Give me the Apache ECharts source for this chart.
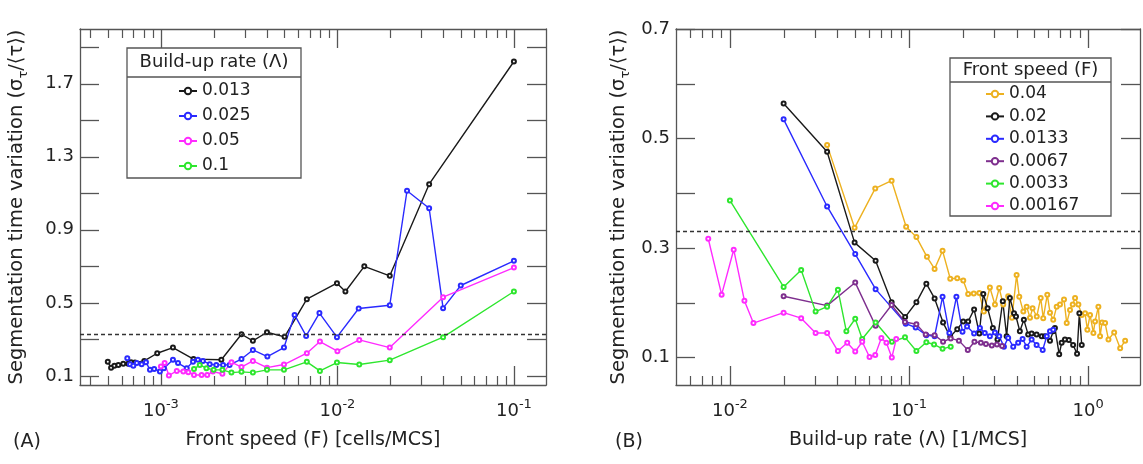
<!DOCTYPE html>
<html>
<head>
<meta charset="utf-8">
<script src="https://cdn.jsdelivr.net/npm/echarts@6/dist/echarts.min.js"></script>
<style>
    html, body {margin: 0; background: #fff;}
    #chart {width: 1143px; height: 464px;}
</style>
</head>
<body>
<div id="chart"></div>
<script>
// (A) 前沿速度 F 与时间变异系数，按 build-up rate 分线
const rateNames = ['0.013', '0.025', '0.05', '0.1'];
const speed013 = [5.0e-4, 5.22e-4, 5.45e-4, 5.74e-4, 6.12e-4, 6.53e-4, 6.77e-4, 7.13e-4, 8.05e-4, 9.53e-4, 1.17e-3, 1.53e-3, 2.2e-3, 2.86e-3, 3.32e-3, 3.99e-3, 5.02e-3, 6.71e-3, 9.94e-3, 1.11e-2, 1.42e-2, 1.98e-2, 3.31e-2, 0.1];
const cv013 = [0.178, 0.144, 0.156, 0.160, 0.166, 0.166, 0.175, 0.173, 0.182, 0.224, 0.255, 0.192, 0.188, 0.328, 0.292, 0.339, 0.314, 0.520, 0.608, 0.562, 0.700, 0.648, 1.150, 1.822];
const speed025 = [6.45e-4, 6.68e-4, 6.98e-4, 7.3e-4, 7.78e-4, 8.23e-4, 8.67e-4, 9.16e-4, 9.87e-4, 1.04e-3, 1.17e-3, 1.25e-3, 1.40e-3, 1.52e-3, 1.62e-3, 1.73e-3, 1.89e-3, 2.06e-3, 2.25e-3, 2.45e-3, 2.86e-3, 3.32e-3, 4.01e-3, 4.98e-3, 5.72e-3, 6.65e-3, 7.91e-3, 9.94e-3, 1.32e-2, 1.98e-2, 2.48e-2, 3.31e-2, 3.97e-2, 5.0e-2, 0.1];
const cv025 = [0.197, 0.164, 0.156, 0.170, 0.164, 0.175, 0.133, 0.138, 0.124, 0.142, 0.188, 0.170, 0.142, 0.178, 0.188, 0.182, 0.164, 0.160, 0.160, 0.160, 0.192, 0.242, 0.206, 0.255, 0.434, 0.319, 0.444, 0.312, 0.469, 0.487, 1.114, 1.018, 0.471, 0.595, 0.730];
const speed05 = [1e-3, 1.05e-3, 1.11e-3, 1.23e-3, 1.34e-3, 1.43e-3, 1.54e-3, 1.70e-3, 1.83e-3, 1.97e-3, 2.23e-3, 2.51e-3, 2.86e-3, 3.32e-3, 3.99e-3, 4.98e-3, 6.71e-3, 7.96e-3, 1.0e-2, 1.33e-2, 1.98e-2, 3.97e-2, 0.1];
const cv05 = [0.151, 0.170, 0.102, 0.127, 0.124, 0.120, 0.105, 0.105, 0.105, 0.124, 0.111, 0.175, 0.148, 0.182, 0.145, 0.162, 0.224, 0.288, 0.235, 0.297, 0.255, 0.531, 0.693];
const speed1 = [1.54e-3, 1.66e-3, 1.81e-3, 1.99e-3, 2.23e-3, 2.51e-3, 2.86e-3, 3.32e-3, 3.99e-3, 4.98e-3, 6.71e-3, 7.96e-3, 9.94e-3, 1.33e-2, 1.98e-2, 3.97e-2, 0.1];
const cv1 = [0.137, 0.160, 0.142, 0.133, 0.133, 0.118, 0.122, 0.118, 0.133, 0.133, 0.177, 0.127, 0.173, 0.162, 0.186, 0.312, 0.562];

// (B) build-up rate 与变异系数，按前沿速度分线
const speedNames = ['0.04', '0.02', '0.0133', '0.0067', '0.0033', '0.00167'];
const rate04 = [0.0349, 0.0497, 0.0648, 0.080, 0.0964, 0.110, 0.126, 0.139, 0.154, 0.170, 0.186, 0.201, 0.214, 0.230, 0.247, 0.262, 0.283, 0.302, 0.319, 0.336, 0.358, 0.376, 0.399, 0.413, 0.435, 0.454, 0.474, 0.490, 0.517, 0.544, 0.562, 0.592, 0.613, 0.639, 0.668, 0.697, 0.734, 0.760, 0.793, 0.821, 0.846, 0.883, 0.923, 0.962, 0.991, 1.026, 1.071, 1.094, 1.142, 1.167, 1.197, 1.245, 1.300, 1.399, 1.511, 1.611];
const cvB04 = [0.488, 0.337, 0.409, 0.423, 0.339, 0.320, 0.284, 0.262, 0.295, 0.244, 0.245, 0.241, 0.216, 0.217, 0.218, 0.184, 0.228, 0.197, 0.227, 0.197, 0.212, 0.173, 0.251, 0.211, 0.184, 0.193, 0.173, 0.190, 0.175, 0.209, 0.172, 0.215, 0.182, 0.169, 0.193, 0.197, 0.206, 0.163, 0.187, 0.197, 0.209, 0.197, 0.178, 0.181, 0.151, 0.178, 0.145, 0.166, 0.193, 0.139, 0.164, 0.163, 0.133, 0.146, 0.117, 0.131];
const rate02 = [0.01995, 0.0349, 0.0497, 0.0651, 0.080, 0.0952, 0.110, 0.125, 0.139, 0.155, 0.170, 0.186, 0.201, 0.214, 0.231, 0.247, 0.260, 0.275, 0.294, 0.312, 0.334, 0.351, 0.366, 0.386, 0.396, 0.416, 0.438, 0.463, 0.484, 0.516, 0.551, 0.574, 0.613, 0.639, 0.653, 0.690, 0.712, 0.743, 0.781, 0.825, 0.868, 0.894, 0.922];
const cvB02 = [0.564, 0.476, 0.310, 0.277, 0.201, 0.174, 0.201, 0.235, 0.208, 0.164, 0.138, 0.152, 0.166, 0.166, 0.188, 0.144, 0.216, 0.190, 0.154, 0.133, 0.203, 0.139, 0.209, 0.181, 0.175, 0.148, 0.169, 0.142, 0.144, 0.142, 0.139, 0.139, 0.131, 0.148, 0.154, 0.106, 0.127, 0.133, 0.132, 0.123, 0.107, 0.181, 0.123];
const rate0133 = [0.01995, 0.0349, 0.0501, 0.0651, 0.0959, 0.109, 0.125, 0.139, 0.154, 0.168, 0.184, 0.199, 0.211, 0.231, 0.249, 0.265, 0.283, 0.302, 0.319, 0.339, 0.358, 0.382, 0.407, 0.431, 0.454, 0.484, 0.516, 0.558, 0.588, 0.613, 0.639];
const cvB0133 = [0.535, 0.376, 0.289, 0.225, 0.162, 0.155, 0.141, 0.139, 0.211, 0.145, 0.211, 0.147, 0.157, 0.144, 0.154, 0.145, 0.139, 0.146, 0.139, 0.120, 0.136, 0.120, 0.127, 0.134, 0.120, 0.133, 0.123, 0.114, 0.139, 0.148, 0.151];
const rate0067 = [0.01995, 0.0349, 0.0501, 0.0651, 0.080, 0.0950, 0.110, 0.124, 0.139, 0.155, 0.171, 0.190, 0.213, 0.232, 0.252, 0.269, 0.290, 0.310, 0.331];
const cvB0067 = [0.212, 0.195, 0.237, 0.158, 0.196, 0.165, 0.161, 0.142, 0.141, 0.129, 0.135, 0.131, 0.114, 0.129, 0.127, 0.125, 0.122, 0.124, 0.121];
const rate0033 = [0.01, 0.01995, 0.0250, 0.0301, 0.0349, 0.0401, 0.0447, 0.0501, 0.0548, 0.0651, 0.0803, 0.0950, 0.110, 0.125, 0.138, 0.154, 0.171];
const cvB0033 = [0.387, 0.229, 0.260, 0.184, 0.193, 0.224, 0.148, 0.171, 0.134, 0.164, 0.129, 0.137, 0.112, 0.128, 0.124, 0.116, 0.120];
const rate00167 = [0.00757, 0.00899, 0.0105, 0.01205, 0.01353, 0.01995, 0.0250, 0.0301, 0.0349, 0.0401, 0.0452, 0.0501, 0.0548, 0.0602, 0.0648, 0.0701, 0.0748, 0.0802, 0.0849];
const cvB00167 = [0.317, 0.215, 0.297, 0.204, 0.163, 0.182, 0.172, 0.145, 0.145, 0.112, 0.127, 0.111, 0.129, 0.101, 0.105, 0.136, 0.127, 0.100, 0.134];

// 虚线阈值
const thresholdCV = 0.33;

// 刻度
const ticksYA = [0.1, 0.3, 0.5, 0.7, 0.9, 1.1, 1.3, 1.5, 1.7, 1.9];
const labelsYA = [0.1, 0.5, 0.9, 1.3, 1.7];
const ticksYB = [0.1, 0.2, 0.3, 0.4, 0.5, 0.6, 0.7];
const labelsYB = [0.1, 0.3, 0.5, 0.7];
const decadesA = [1e-4, 1e-3, 1e-2, 1e-1];
const decadesB = [1e-3, 1e-2, 1e-1, 1];
const majorsA = [1e-3, 1e-2, 1e-1];
const majorsB = [1e-2, 1e-1, 1];

const FONT = 'DejaVu Sans';
const AXIS_COLOR = '#555';
const TEXT_COLOR = '#222';

let zip = (xs, ys) => xs.map((x, i) => [x, ys[i]]);
let minorsOf = (decades) => {
    let out = [];
    decades.forEach(d => { for (let k = 2; k <= 9; k++) out.push(+(k * d).toPrecision(3)); });
    return out;
};

// 对数 x 轴：上下各一条主刻度轴 + 次刻度轴
let makeLogAxes = (gridIndex, min, max, majors, minors, name) => {
    let base = {
        type: 'log', logBase: 10, gridIndex: gridIndex, min: min, max: max,
        splitLine: {show: false}, axisPointer: {show: false}
    };
    return [
        Object.assign({}, base, {
            position: 'bottom',
            axisLine: {show: true, lineStyle: {color: AXIS_COLOR, width: 1.3}},
            axisTick: {show: true, inside: true, length: 19, customValues: majors, lineStyle: {color: AXIS_COLOR, width: 1.3}},
            axisLabel: {
                show: true, margin: 13, customValues: majors, color: TEXT_COLOR,
                formatter: v => '{b|10}{s|' + Math.round(Math.log10(v)) + '}',
                rich: {
                    b: {fontFamily: FONT, fontSize: 18, lineHeight: 26, color: TEXT_COLOR},
                    s: {fontFamily: FONT, fontSize: 13, lineHeight: 13, verticalAlign: 'top', color: TEXT_COLOR}
                }
            },
            name: name, nameLocation: 'middle', nameGap: 46,
            nameTextStyle: {fontFamily: FONT, fontSize: 19, color: TEXT_COLOR}
        }),
        Object.assign({}, base, {
            position: 'bottom',
            axisLine: {show: false},
            axisTick: {show: true, inside: true, length: 9, customValues: minors, lineStyle: {color: AXIS_COLOR, width: 1.2}},
            axisLabel: {show: false}
        }),
        Object.assign({}, base, {
            position: 'top',
            axisLine: {show: true, lineStyle: {color: AXIS_COLOR, width: 1.3}},
            axisTick: {show: true, inside: true, length: 19, customValues: majors, lineStyle: {color: AXIS_COLOR, width: 1.3}},
            axisLabel: {show: false}
        }),
        Object.assign({}, base, {
            position: 'top',
            axisLine: {show: false},
            axisTick: {show: true, inside: true, length: 9, customValues: minors, lineStyle: {color: AXIS_COLOR, width: 1.2}},
            axisLabel: {show: false}
        })
    ];
};

let makeValueAxes = (gridIndex, min, max, ticks, labels, nameGap) => {
    let base = {
        type: 'value', gridIndex: gridIndex, min: min, max: max,
        splitLine: {show: false}, axisPointer: {show: false}
    };
    return [
        Object.assign({}, base, {
            position: 'left',
            axisLine: {show: true, lineStyle: {color: AXIS_COLOR, width: 1.3}},
            axisTick: {show: true, inside: true, length: 19, customValues: ticks, lineStyle: {color: AXIS_COLOR, width: 1.3}},
            axisLabel: {show: true, margin: 6, customValues: labels, color: TEXT_COLOR, fontFamily: FONT, fontSize: 18},
            name: '{m|Segmentation time variation (σ}{t|τ}{m|/⟨τ⟩)}',
            nameLocation: 'middle', nameRotate: 90, nameGap: nameGap,
            nameTextStyle: {
                fontFamily: FONT, fontSize: 19.5, color: TEXT_COLOR,
                rich: {
                    m: {fontFamily: FONT, fontSize: 19.5, lineHeight: 26, color: TEXT_COLOR},
                    t: {fontFamily: FONT, fontSize: 13, lineHeight: 13, verticalAlign: 'bottom', color: TEXT_COLOR}
                }
            }
        }),
        Object.assign({}, base, {
            position: 'right',
            axisLine: {show: true, lineStyle: {color: AXIS_COLOR, width: 1.3}},
            axisTick: {show: true, inside: true, length: 19, customValues: ticks, lineStyle: {color: AXIS_COLOR, width: 1.3}},
            axisLabel: {show: false}
        })
    ];
};

let lineSeries = (name, xs, ys, color, xAxisIndex, yAxisIndex) => ({
    name: name, type: 'line',
    xAxisIndex: xAxisIndex, yAxisIndex: yAxisIndex,
    data: zip(xs, ys),
    symbol: 'emptyCircle', symbolSize: 4, showSymbol: true,
    lineStyle: {color: color, width: 1.4},
    itemStyle: {color: color, borderWidth: 1.2},
    emphasis: {disabled: true}
});

let dashed = {
    silent: true, symbol: 'none', label: {show: false},
    lineStyle: {color: '#333', type: [4, 3], width: 1.3},
    data: [{yAxis: thresholdCV}]
};

const colorsA = ['#1a1a1a', '#2a2aff', '#ff2bff', '#2ee62e'];
const colorsB = ['#edb120', '#1a1a1a', '#2a2aff', '#7e2f8e', '#2ee62e', '#ff2bff'];

let seriesA = [
    lineSeries(rateNames[0], speed013, cv013, colorsA[0], 0, 0),
    lineSeries(rateNames[1], speed025, cv025, colorsA[1], 0, 0),
    lineSeries(rateNames[2], speed05, cv05, colorsA[2], 0, 0),
    lineSeries(rateNames[3], speed1, cv1, colorsA[3], 0, 0)
];
seriesA[0].markLine = dashed;

let seriesB = [
    lineSeries(speedNames[0], rate04, cvB04, colorsB[0], 4, 2),
    lineSeries(speedNames[1], rate02, cvB02, colorsB[1], 4, 2),
    lineSeries(speedNames[2], rate0133, cvB0133, colorsB[2], 4, 2),
    lineSeries(speedNames[3], rate0067, cvB0067, colorsB[3], 4, 2),
    lineSeries(speedNames[4], rate0033, cvB0033, colorsB[4], 4, 2),
    lineSeries(speedNames[5], rate00167, cvB00167, colorsB[5], 4, 2)
];
seriesB[0].markLine = dashed;

// 图例外框 + 标题
let legendBox = (x, y, w, h, headH, title) => ({
    type: 'group', z: 3,
    children: [
        {type: 'rect', shape: {x: x, y: y, width: w, height: h}, style: {fill: '#fff', stroke: '#555', lineWidth: 1.3}},
        {type: 'line', shape: {x1: x, y1: y + headH, x2: x + w, y2: y + headH}, style: {stroke: '#555', lineWidth: 1.3}},
        {type: 'text', x: x + w / 2, y: y + headH / 2, style: {text: title, fontFamily: FONT, fontSize: 18, fill: TEXT_COLOR, align: 'center', verticalAlign: 'middle'}}
    ]
});

let legendCommon = {
    orient: 'vertical', itemWidth: 18, itemHeight: 8,
    textStyle: {fontFamily: FONT, fontSize: 17, color: TEXT_COLOR, lineHeight: 20},
    selectedMode: false, z: 5, padding: 0
};

let chart = echarts.init(document.getElementById('chart'));
let option = {
    animation: false,
    backgroundColor: '#fff',
    title: [
        {text: '(A)', left: 8, top: 428, textStyle: {fontFamily: FONT, fontSize: 19, fontWeight: 'normal', color: TEXT_COLOR}},
        {text: '(B)', left: 610, top: 428, textStyle: {fontFamily: FONT, fontSize: 19, fontWeight: 'normal', color: TEXT_COLOR}}
    ],
    grid: [
        {left: 80, top: 29, width: 466, height: 356},
        {left: 676, top: 29, width: 464, height: 356}
    ],
    xAxis: [].concat(
        makeLogAxes(0, 3.48e-4, 0.152, majorsA, minorsOf(decadesA).filter(v => v > 3.48e-4 && v < 0.152), 'Front speed (F) [cells/MCS]'),
        makeLogAxes(1, 0.005, 1.95, majorsB, minorsOf(decadesB).filter(v => v > 0.005 && v < 1.95), 'Build-up rate (Λ) [1/MCS]')
    ),
    yAxis: [].concat(
        makeValueAxes(0, 0.05, 2.0, ticksYA, labelsYA, 50),
        makeValueAxes(1, 0.05, 0.7, ticksYB, labelsYB, 44)
    ),
    legend: [
        Object.assign({}, legendCommon, {data: rateNames, left: 178, top: 81, itemGap: 5}),
        Object.assign({}, legendCommon, {data: speedNames, left: 985, top: 84, itemGap: 2.4})
    ],
    graphic: [
        legendBox(127, 48, 174, 130, 29, 'Build-up rate (Λ)'),
        legendBox(950, 58, 161, 158, 24, 'Front speed (F)')
    ],
    series: seriesA.concat(seriesB)
};
chart.setOption(option);
</script>
</body>
</html>
